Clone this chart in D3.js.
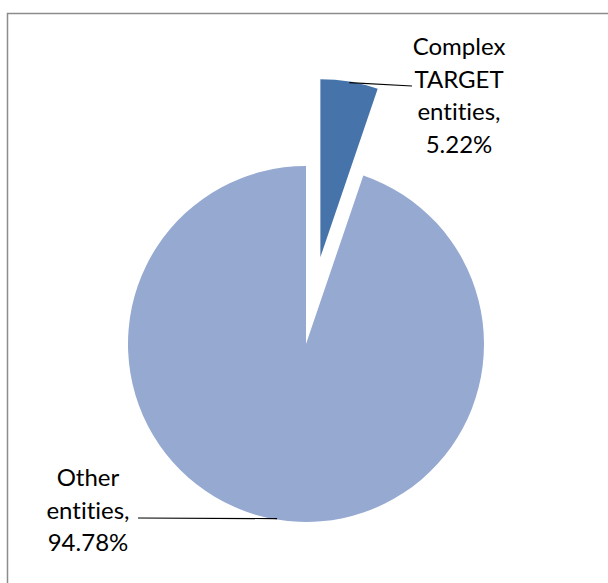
<!DOCTYPE html>
<html>
<head>
<meta charset="utf-8">
<script src="https://cdn.jsdelivr.net/npm/d3@7"></script>
<style>
  html, body { margin: 0; padding: 0; background: #fff; }
  svg { display: block; }
  text { font-family: Lato, "Open Sans", sans-serif; font-size: 24px; fill: #000;
         font-variant-ligatures: none; font-feature-settings: "liga" 0; }
</style>
</head>
<body>
<svg id="chart" width="608" height="583"></svg>
<script>
// Share of entities by type (percent)
const categories = ["Complex TARGET entities", "Other entities"];
const values = [5.22, 94.78];
const labelLines = [
  ["Complex", "TARGET", "entities,", "5.22%"],
  ["Other", "entities,", "94.78%"]
];
const colors = ["#4674AA", "#95A9D1"];

const svg = d3.select("#chart");

// Chart frame
svg.append("rect")
  .attr("x", 7.5).attr("y", 13.5)
  .attr("width", 640).attr("height", 640)
  .attr("fill", "none")
  .attr("stroke", "#8c8c8c")
  .attr("stroke-width", 1.5);

const cx = 306, cy = 344, radius = 178, explode = 88;

const pie = d3.pie().sort(null).value(d => d);
const arcs = pie(values);
const arc = d3.arc().innerRadius(0).outerRadius(radius);

const g = svg.append("g").attr("transform", `translate(${cx},${cy})`);

function offsetOf(d, i) {
  if (i !== 0) return [0, 0];
  const mid = (d.startAngle + d.endAngle) / 2;
  return [Math.sin(mid) * explode, -Math.cos(mid) * explode];
}

g.selectAll("path.slice")
  .data(arcs)
  .join("path")
  .attr("class", "slice")
  .attr("d", arc)
  .attr("fill", (d, i) => colors[i])
  .attr("transform", (d, i) => `translate(${offsetOf(d, i)})`);

// Label anchors (centre x, first line y) and leader ends
const labelPos = [
  { x: 459, y: 47, lineEnd: [412, 86] },
  { x: 88, y: 478, lineEnd: [138, 518] }
];
const lineGap = 32.5;

arcs.forEach((d, i) => {
  const mid = (d.startAngle + d.endAngle) / 2;
  const [ox, oy] = offsetOf(d, i);
  const px = cx + ox + Math.sin(mid) * (radius - 1);
  const py = cy + oy - Math.cos(mid) * (radius - 1);
  const lp = labelPos[i];
  svg.append("line")
    .attr("x1", px).attr("y1", py)
    .attr("x2", lp.lineEnd[0]).attr("y2", lp.lineEnd[1])
    .attr("stroke", "#000").attr("stroke-width", 1.2);

  const t = svg.append("text")
    .attr("text-anchor", "middle");
  labelLines[i].forEach((s, k) => {
    t.append("tspan")
      .attr("x", lp.x)
      .attr("y", lp.y + k * lineGap)
      .attr("dy", "0.35em")
      .text(s);
  });
});
</script>
</body>
</html>
